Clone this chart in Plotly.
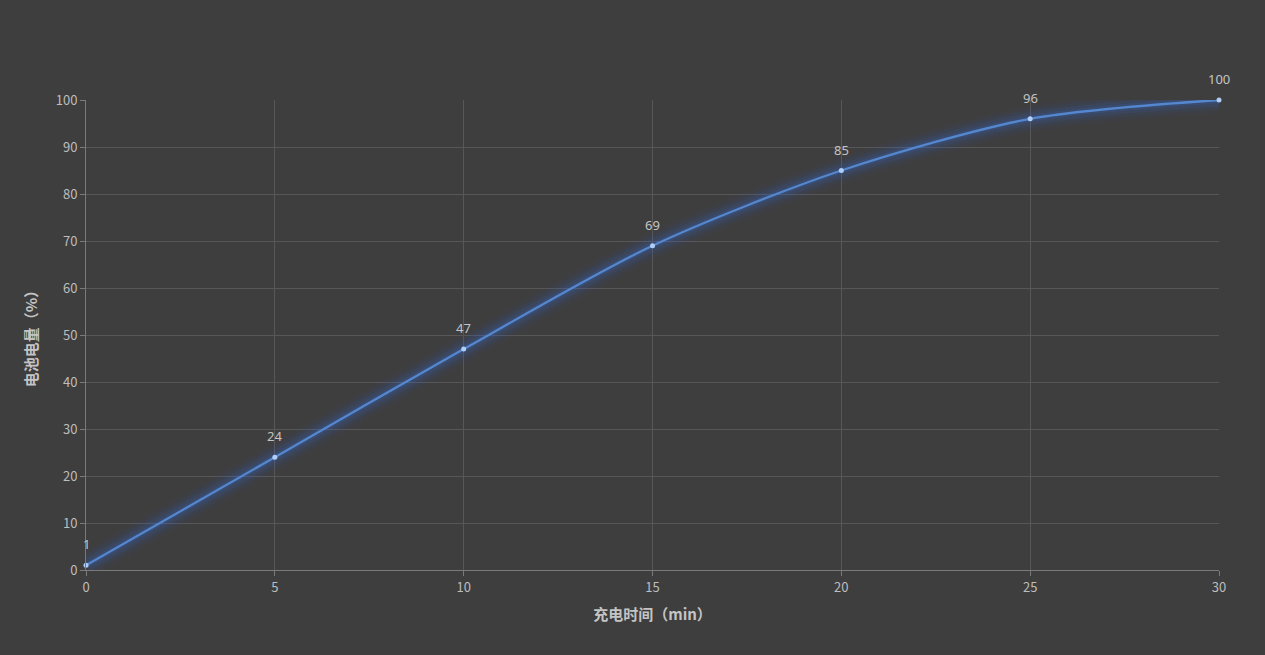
import plotly.graph_objects as go

time_min = [0, 5, 10, 15, 20, 25, 30]
battery_pct = [1, 24, 47, 69, 85, 96, 100]
x_ticks = [0, 5, 10, 15, 20, 25, 30]
y_ticks = [0, 10, 20, 30, 40, 50, 60, 70, 80, 90, 100]

fig = go.Figure()
# glow layers
for w, a in [(26, 0.04), (19, 0.06), (13, 0.09), (7, 0.14)]:
    fig.add_trace(go.Scatter(x=time_min, y=battery_pct, mode="lines",
                             line=dict(color=f"rgba(50,110,230,{a})", width=w, shape="spline", smoothing=0.8),
                             hoverinfo="skip", showlegend=False, cliponaxis=False))
fig.add_trace(go.Scatter(
    x=time_min, y=battery_pct, mode="lines+markers",
    line=dict(color="#5587cf", width=2.3, shape="spline", smoothing=0.8),
    marker=dict(color="#b0cdf5", size=5),
    cliponaxis=False, showlegend=False))

for xv, yv in zip(time_min, battery_pct):
    fig.add_annotation(x=xv, y=yv, text=str(yv), showarrow=False, yshift=21,
                       font=dict(color="#c4c4c4", size=13, family="Noto Sans"))

fig.update_layout(
    width=1265, height=655,
    paper_bgcolor="#3e3e3e", plot_bgcolor="#3e3e3e",
    margin=dict(l=86, r=46, t=100, b=85),
    font=dict(family="Noto Sans CJK SC, Noto Sans", color="#bdbdbd", size=13),
    xaxis=dict(range=[0, 30], tickvals=x_ticks, showgrid=True, gridcolor="#575757",
               zeroline=False, showline=True, linecolor="#7a7a7a", ticks="outside",
               ticklen=5, tickcolor="#7a7a7a",
               title=dict(text="<b>充电时间（min）</b>", font=dict(size=15, color="#c4c4c4"), standoff=14)),
    yaxis=dict(range=[0, 100], tickvals=y_ticks, showgrid=True, gridcolor="#575757",
               zeroline=False, showline=True, linecolor="#7a7a7a", ticks="outside",
               ticklen=5, tickcolor="#7a7a7a",
               title=dict(text="<b>电池电量（%）</b>", font=dict(size=15, color="#c4c4c4"), standoff=14)),
)
fig.write_html("out.html", config={"displayModeBar": False},
               post_script="document.body.style.margin='0';document.body.style.background='#3e3e3e';")
